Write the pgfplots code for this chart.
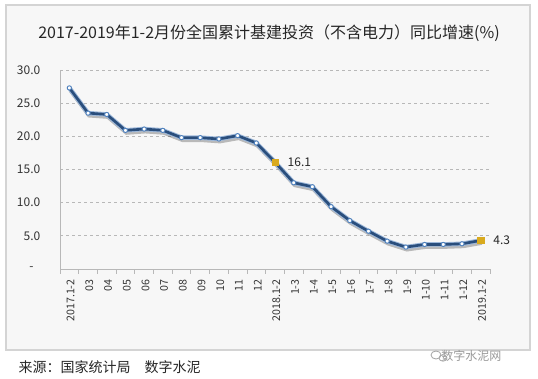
\documentclass[border=0pt]{standalone}
\usepackage{pgfplots}
\pgfplotsset{compat=1.18}
\usepackage{fontspec}
\setmainfont{Noto Sans CJK SC}
\definecolor{frameBG}{HTML}{F7F7F7}
\definecolor{frameLine}{HTML}{D4D4D4}
\definecolor{lineDark}{HTML}{2A4E7C}
\definecolor{lineLight}{HTML}{9DB8DA}
\definecolor{markBlue}{HTML}{4F81BD}
\definecolor{gold}{HTML}{D9AA1E}
\definecolor{gridc}{HTML}{B8B8B8}
\begin{document}
\begin{tikzpicture}[x=0.75pt,y=0.75pt]
\path (0,0) rectangle (538,378);
\draw[fill=frameBG, draw=frameLine, line width=0.8pt] (6,28) rectangle (530,373);
\node[font=\fontsize{12}{14}\selectfont, text=black!85] at (269,345) {2017-2019年1-2月份全国累计基建投资（不含电力）同比增速(\%)};
\begin{axis}[
  at={(45pt,81.75pt)}, anchor=south west,
  scale only axis, width=322.5pt, height=149.25pt,
  xmin=-0.5, xmax=22.5, ymin=0, ymax=30,
  axis lines*=left,
  axis line style={gridc, line width=0.6pt},
  ytick={0,5,10,15,20,25,30},
  yticklabels={-\hphantom{0},5.0,10.0,15.0,20.0,25.0,30.0},
  ymajorgrids, major grid style={gridc, dash pattern=on 2.5pt off 2pt, line width=0.5pt},
  ytick style={draw=none},
  yticklabel style={font=\fontsize{9}{10}\selectfont, text=black!80, xshift=-7pt},
  xtick={0,...,22},
  xticklabels={2017.1-2,03,04,05,06,07,08,09,10,11,12,2018.1-2,1-3,1-4,1-5,1-6,1-7,1-8,1-9,1-10,1-11,1-12,2019.1-2},
  xticklabel style={rotate=90, anchor=east, font=\fontsize{8}{9}\selectfont, text=black!80, yshift=-1pt},
  major x tick style={draw=none},
  minor xtick={-0.5,0.5,...,22.5},
  minor x tick style={gridc, line width=0.6pt},
  minor tick length=3.5pt,
  tick align=outside,
  xtick pos=bottom,
  /pgf/number format/assume math mode=true,
  clip=false,
]
\addplot[black, opacity=0.25, line width=3pt, transform canvas={xshift=0.8pt,yshift=-1.8pt}] coordinates {
(0,27.3)(1,23.5)(2,23.3)(3,20.9)(4,21.1)(5,20.9)(6,19.8)(7,19.8)(8,19.6)(9,20.1)(10,19.0)(11,16.1)
(12,13.0)(13,12.4)(14,9.4)(15,7.3)(16,5.7)(17,4.2)(18,3.3)(19,3.7)(20,3.7)(21,3.8)(22,4.3)};
\addplot[lineLight, line width=3.4pt] coordinates {
(0,27.3)(1,23.5)(2,23.3)(3,20.9)(4,21.1)(5,20.9)(6,19.8)(7,19.8)(8,19.6)(9,20.1)(10,19.0)(11,16.1)
(12,13.0)(13,12.4)(14,9.4)(15,7.3)(16,5.7)(17,4.2)(18,3.3)(19,3.7)(20,3.7)(21,3.8)(22,4.3)};
\addplot[lineDark, line width=2pt, mark=*, mark size=1.6pt, mark options={fill=white, draw=markBlue, line width=0.7pt}] coordinates {
(0,27.3)(1,23.5)(2,23.3)(3,20.9)(4,21.1)(5,20.9)(6,19.8)(7,19.8)(8,19.6)(9,20.1)(10,19.0)(11,16.1)
(12,13.0)(13,12.4)(14,9.4)(15,7.3)(16,5.7)(17,4.2)(18,3.3)(19,3.7)(20,3.7)(21,3.8)(22,4.3)};
\addplot[only marks, mark=square*, mark size=2.4pt, gold,
  nodes near coords, point meta=explicit symbolic,
  nodes near coords style={anchor=west, xshift=6pt, text=black!85, font=\fontsize{9}{10}\selectfont}]
  coordinates {(11,16.1)[16.1] (22,4.3)[4.3]};
\end{axis}
\node[anchor=west, font=\fontsize{10.5}{12}\selectfont, text=black!85] at (14,11) {来源：国家统计局\quad 数字水泥};
\node[anchor=east, font=\fontsize{9}{10}\selectfont, text=black!40] at (506,22) {数字水泥网};
\draw[black!35, line width=0.6pt] (436,23) ellipse (5 and 4);
\draw[black!35, line width=0.6pt] (443,20) ellipse (4 and 3.2);
\end{tikzpicture}
\end{document}
